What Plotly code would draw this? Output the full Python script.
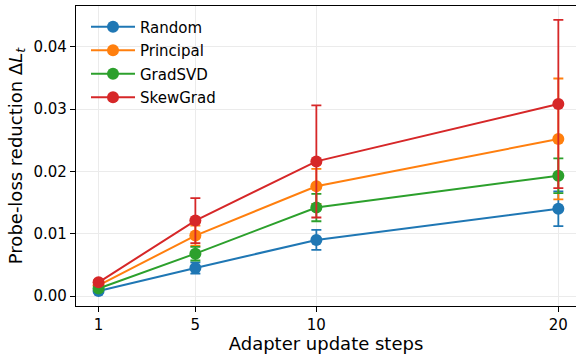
import plotly.graph_objects as go

steps = [1, 5, 10, 20]
tick_labels = ["1", "5", "10", "20"]

series_names = ["Random", "Principal", "GradSVD", "SkewGrad"]
random_vals = [0.0008, 0.0045, 0.0090, 0.0140]
random_err = [0.0003, 0.0009, 0.0016, 0.0028]
principal_vals = [0.0017, 0.0097, 0.0176, 0.0252]
principal_err = [0.0004, 0.0016, 0.0028, 0.0097]
gradsvd_vals = [0.0012, 0.0068, 0.0142, 0.0193]
gradsvd_err = [0.0003, 0.0011, 0.0022, 0.0028]
skewgrad_vals = [0.0022, 0.0121, 0.0216, 0.0308]
skewgrad_err = [0.0004, 0.0036, 0.0090, 0.0135]

colors = ["#1f77b4", "#ff7f0e", "#2ca02c", "#d62728"]
values = [random_vals, principal_vals, gradsvd_vals, skewgrad_vals]
errors = [random_err, principal_err, gradsvd_err, skewgrad_err]

FONT = "DejaVu Sans"

fig = go.Figure()
for name, vals, errs, col in zip(series_names, values, errors, colors):
    fig.add_trace(go.Scatter(
        x=steps, y=vals, name=name, mode="lines+markers",
        line=dict(color=col, width=2),
        marker=dict(color=col, size=12),
        error_y=dict(type="data", array=errs, visible=True, color=col,
                     thickness=1.8, width=5),
        legendgroup=name,
    ))

fig.update_layout(
    width=576, height=354,
    margin=dict(l=76, r=0, t=6, b=48),
    paper_bgcolor="white", plot_bgcolor="white",
    font=dict(family=FONT, size=15, color="black"),
    showlegend=True,
    legend=dict(x=0.02, y=0.985, xanchor="left", yanchor="top",
                bgcolor="rgba(0,0,0,0)", borderwidth=0,
                traceorder="grouped", tracegroupgap=1, itemwidth=44,
                font=dict(family=FONT, size=15)),
    xaxis=dict(
        range=[0.067, 20.73], tickmode="array", tickvals=steps, ticktext=tick_labels,
        showgrid=True, gridcolor="#ebebeb", gridwidth=1,
        showline=True, linecolor="black", linewidth=1.2, mirror=True,
        ticks="outside", ticklen=5, tickcolor="black",
        zeroline=False,
        title=dict(text="Adapter update steps", standoff=6),
    ),
    yaxis=dict(
        range=[-0.0016, 0.04653], tickvals=[0.0, 0.01, 0.02, 0.03, 0.04],
        tickformat=".2f",
        showgrid=True, gridcolor="#ebebeb", gridwidth=1,
        showline=True, linecolor="black", linewidth=1.2, mirror=False,
        ticks="outside", ticklen=5, tickcolor="black",
        zeroline=False,
        title=dict(text="Probe-loss reduction Δ<i>L</i><sub><i>t</i></sub>", standoff=6),
    ),
)

fig.write_html("out.html", config={"displayModeBar": False},
               post_script="document.body.style.margin='0';")
